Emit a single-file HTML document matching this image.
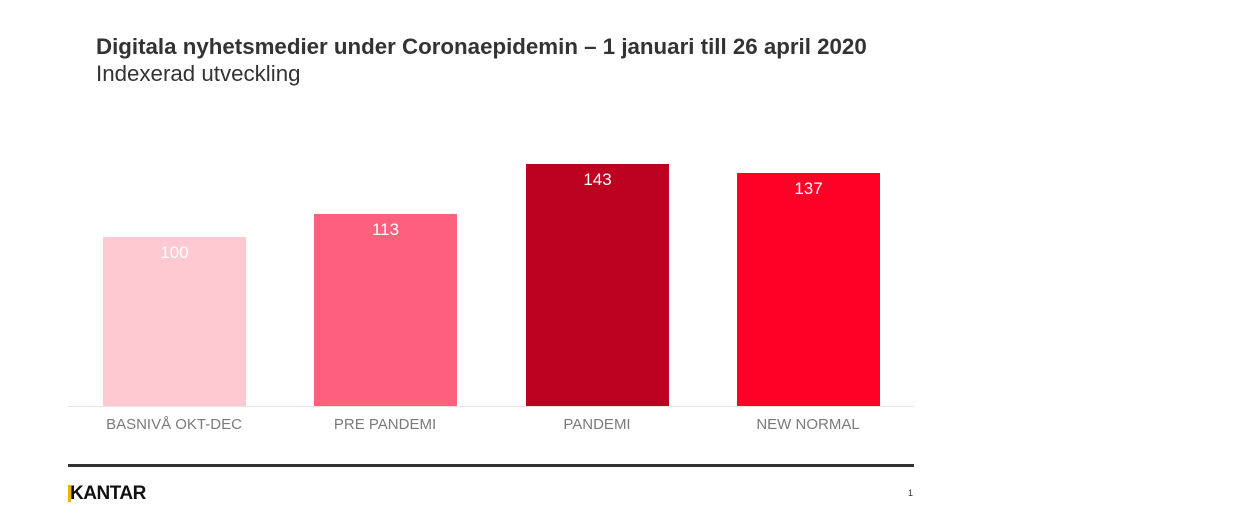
<!DOCTYPE html>
<html><head><meta charset="utf-8"><style>
body{margin:0;width:1250px;height:521px;background:#fff;position:relative;overflow:hidden;font-family:"Liberation Sans",Arial,sans-serif}
.t{position:absolute;left:96px;top:34px;font-size:22.3px;font-weight:bold;color:#333}
.s{position:absolute;left:96px;top:61px;font-size:22.3px;color:#333}
.b{position:absolute;bottom:115px;width:143px}
.v{position:absolute;width:143px;text-align:center;font-size:17px;color:#fff}
.l{position:absolute;top:416px;width:200px;text-align:center;font-size:15px;color:#7a7a7a}
</style></head><body>
<div class="t">Digitala nyhetsmedier under Coronaepidemin – 1 januari till 26 april 2020</div>
<div class="s">Indexerad utveckling</div>
<div class="b" style="left:103px;top:237px;background:#ffc9d1"></div>
<div class="b" style="left:314px;top:214px;background:#ff617d"></div>
<div class="b" style="left:526px;top:164px;background:#bc001f"></div>
<div class="b" style="left:737px;top:173px;background:#ff0027"></div>
<div style="position:absolute;left:68px;top:406px;width:846px;height:1px;background:#e6e6e6"></div>
<div class="v" style="left:103px;top:243px">100</div>
<div class="v" style="left:314px;top:220px">113</div>
<div class="v" style="left:526px;top:170px">143</div>
<div class="v" style="left:737px;top:179px">137</div>
<div class="l" style="left:74px">BASNIVÅ OKT-DEC</div>
<div class="l" style="left:285px">PRE PANDEMI</div>
<div class="l" style="left:497px">PANDEMI</div>
<div class="l" style="left:708px">NEW NORMAL</div>
<div style="position:absolute;left:68px;top:464px;width:846px;height:3px;background:#333"></div>
<div style="position:absolute;left:68px;top:485px;width:3px;height:17px;background:#e8b500"></div>
<div style="position:absolute;left:70px;top:483px;font-size:19px;font-weight:bold;color:#111;letter-spacing:-0.5px">KANTAR</div>
<div style="position:absolute;left:908px;top:488px;font-size:9px;color:#333">1</div>
</body></html>
